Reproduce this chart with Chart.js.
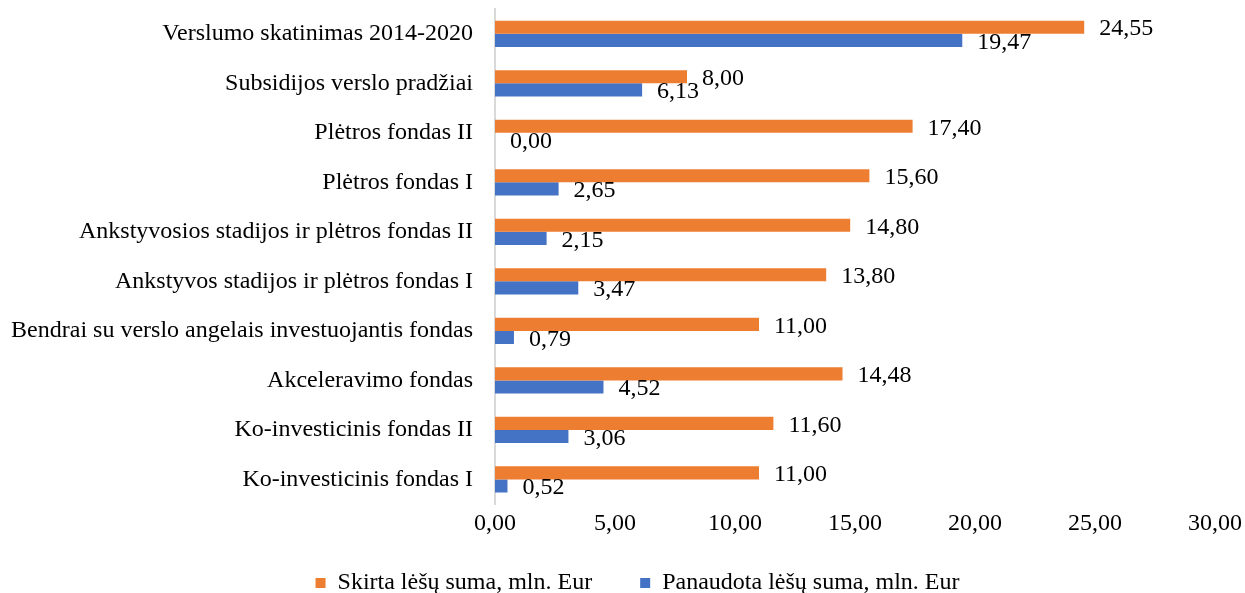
<!DOCTYPE html>
<html>
<head>
<meta charset="utf-8">
<script src="https://cdn.jsdelivr.net/npm/chart.js@4"></script>
<style>
  body { margin: 0; background: #fff; }
  #wrap { width: 1245px; height: 593px; }
</style>
</head>
<body>
<div id="wrap"><canvas id="barras" width="1245" height="593"></canvas></div>
<script>
const fondai = [
  "Verslumo skatinimas 2014-2020",
  "Subsidijos verslo pradžiai",
  "Plėtros fondas II",
  "Plėtros fondas I",
  "Ankstyvosios stadijos ir plėtros fondas II",
  "Ankstyvos stadijos ir plėtros fondas I",
  "Bendrai su verslo angelais investuojantis fondas",
  "Akceleravimo fondas",
  "Ko-investicinis fondas II",
  "Ko-investicinis fondas I"
];
const skirta = [24.55, 8.00, 17.40, 15.60, 14.80, 13.80, 11.00, 14.48, 11.60, 11.00];
const panaudota = [19.47, 6.13, 0.00, 2.65, 2.15, 3.47, 0.79, 4.52, 3.06, 0.52];
const xTicks = [0, 5, 10, 15, 20, 25, 30];

const serif = "'Liberation Serif', 'Times New Roman', serif";

function lt(v) {
  return v.toFixed(2).replace(".", ",");
}

// reiksmes prie stulpeliu galo
const reiksmes = {
  id: "reiksmes",
  afterLayout(chart) {
    // legenda kiek desiniau, kaip originale
    chart.legend.left += 30;
    chart.legend.right += 30;
  },
  afterDatasetsDraw(chart) {
    const ctx = chart.ctx;
    ctx.save();
    ctx.font = "24px " + serif;
    ctx.fillStyle = "#000";
    ctx.textBaseline = "middle";
    ctx.textAlign = "left";
    chart.data.datasets.forEach(function (ds, i) {
      chart.getDatasetMeta(i).data.forEach(function (bar, j) {
        ctx.fillText(lt(ds.data[j]), bar.x + 15, bar.y + 2);
      });
    });
    ctx.restore();
  },
};

const ctx = document.getElementById("barras");
new Chart(ctx, {
  type: "bar",
  data: {
    labels: fondai,
    datasets: [
      {
        label: "Skirta lėšų suma, mln. Eur",
        data: skirta,
        backgroundColor: "#ED7D31",
        borderWidth: 0,
      },
      {
        label: "Panaudota lėšų suma, mln. Eur",
        data: panaudota,
        backgroundColor: "#4472C4",
        borderWidth: 0,
      },
    ],
  },
  options: {
    indexAxis: "y",
    responsive: false,
    animation: false,
    layout: {
      padding: { top: 9, right: 30, left: 0, bottom: -12 },
    },
    datasets: {
      bar: { categoryPercentage: 0.53, barPercentage: 1 },
    },
    scales: {
      x: {
        min: 0,
        max: 30,
        afterBuildTicks: function (axis) {
          axis.ticks = xTicks.map(function (v) { return { value: v }; });
        },
        afterFit: function (axis) {
          axis.height += 16;
          axis.paddingLeft = 0;
          axis.paddingRight = 0;
        },
        grid: { display: false, drawTicks: false, tickLength: 0 },
        border: { display: false },
        ticks: {
          color: "#000",
          font: { family: serif, size: 24 },
          padding: 5,
          maxRotation: 0,
          callback: function (v) { return lt(v); },
        },
      },
      y: {
        afterFit: function (axis) {
          axis.width = 495;
          axis.paddingTop = 0;
          axis.paddingBottom = 0;
        },
        grid: { display: false, drawTicks: false, tickLength: 0 },
        border: { display: true, color: "#d9d9d9", width: 2 },
        ticks: {
          color: "#000",
          font: { family: serif, size: 24 },
          padding: 22,
        },
      },
    },
    plugins: {
      legend: {
        position: "bottom",
        labels: {
          color: "#000",
          font: { family: serif, size: 24 },
          boxWidth: 10,
          boxHeight: 10,
          padding: 12,
          generateLabels: function (chart) {
            const items = Chart.defaults.plugins.legend.labels.generateLabels(chart);
            items[0].text = items[0].text + "\u2003\u2002";
            return items;
          },
        },
      },
      tooltip: { enabled: false },
    },
  },
  plugins: [reiksmes],
});
</script>
</body>
</html>
